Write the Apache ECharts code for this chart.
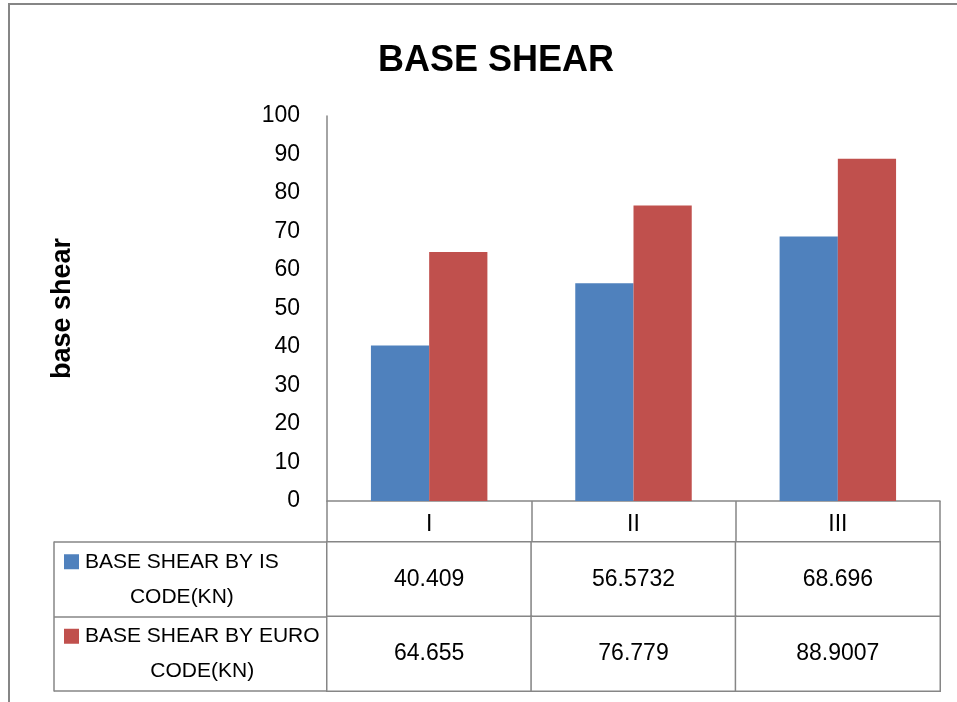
<!DOCTYPE html>
<html>
<head>
<meta charset="utf-8">
<script src="https://cdn.jsdelivr.net/npm/echarts@6/dist/echarts.min.js"></script>
<style>
    html, body { margin: 0; padding: 0; background: #fff; }
    #chart { width: 957px; height: 702px; }
</style>
</head>
<body>
<div id="chart"></div>
<script>
    // 数据
    const categories = ['I', 'II', 'III'];
    const seriesNames = ['BASE SHEAR BY IS CODE(KN)', 'BASE SHEAR BY EURO CODE(KN)'];
    const isCode = [40.409, 56.5732, 68.696];
    const euroCode = [64.655, 76.779, 88.9007];
    const yTicks = { min: 0, max: 100, interval: 10 };

    const colors = ['#4F81BD', '#C0504D'];
    const lineGray = '#868686';
    const font = "'Liberation Sans', Arial, sans-serif";

    // 表格单元格 [x, y, value]
    const tableCells = [];
    [isCode, euroCode].forEach(function (arr, r) {
        arr.forEach(function (v, c) {
            tableCells.push([c, r, v]);
        });
    });

    // 图例文字（两行）
    const legendText = {};
    legendText[seriesNames[0]] = ['BASE SHEAR BY IS', 'CODE(KN)'];
    legendText[seriesNames[1]] = ['BASE SHEAR BY EURO', 'CODE(KN)'];

    let myChart = echarts.init(document.getElementById('chart'));
    myChart.setOption({
        animation: false,
        backgroundColor: '#fff',
        textStyle: { fontFamily: font, color: '#000' },
        title: {
            text: 'BASE SHEAR',
            left: 373,
            top: 38,
            textStyle: { fontFamily: font, fontSize: 36, fontWeight: 'bold', color: '#000' }
        },
        //外框
        graphic: [{
            type: 'rect',
            shape: { x: 9, y: 4, width: 1200, height: 1200 },
            style: { fill: 'none', stroke: lineGray, lineWidth: 2 },
            silent: true
        }],
        grid: [
            { left: 327, right: 17, top: 116, bottom: 201 },
            { left: 327, right: 17, top: 542, bottom: 11 }
        ],
        xAxis: [
            {
                type: 'category',
                gridIndex: 0,
                data: categories,
                axisLine: { lineStyle: { color: lineGray, width: 1.5 } },
                //刻度线向下延伸成表头竖线
                axisTick: { show: true, length: 41, lineStyle: { color: lineGray, width: 1.5 } },
                axisLabel: { margin: 12, fontSize: 23, color: '#000', fontFamily: font }
            },
            {
                type: 'category',
                gridIndex: 1,
                data: categories,
                show: false
            }
        ],
        yAxis: [
            {
                type: 'value',
                gridIndex: 0,
                min: yTicks.min,
                max: yTicks.max,
                interval: yTicks.interval,
                name: 'base shear',
                nameLocation: 'middle',
                nameGap: 251,
                nameTextStyle: { fontSize: 27, fontWeight: 'bold', color: '#000', fontFamily: font },
                axisLine: { show: true, lineStyle: { color: lineGray, width: 1.5 } },
                axisTick: { show: false },
                splitLine: { show: false },
                axisLabel: { margin: 27, fontSize: 23, color: '#000', fontFamily: font }
            },
            {
                type: 'category',
                gridIndex: 1,
                data: seriesNames,
                inverse: true,
                axisLine: { show: true, lineStyle: { color: lineGray, width: 1.5 } },
                //刻度线向左延伸成表格横线
                axisTick: { show: true, length: 273, lineStyle: { color: lineGray, width: 1.5 } },
                axisLabel: {
                    margin: 263,
                    align: 'left',
                    formatter: function (name) {
                        const idx = seriesNames.indexOf(name);
                        const t = legendText[name];
                        return '{sq' + idx + '|}{g|}{t|' + t[0] + '}\n{p|}{t|' + t[1] + '}';
                    },
                    rich: {
                        sq0: { width: 15, height: 15, backgroundColor: colors[0], align: 'left' },
                        sq1: { width: 15, height: 15, backgroundColor: colors[1], align: 'left' },
                        g: { width: 6, align: 'left' },
                        p: { width: 21, align: 'left' },
                        t: { fontSize: 21, lineHeight: 35, color: '#000', fontFamily: font, align: 'center' }
                    }
                }
            },
            {
                //表格最左边竖线
                type: 'value',
                gridIndex: 1,
                position: 'left',
                offset: 273,
                axisLine: { show: true, lineStyle: { color: lineGray, width: 1.5 } },
                axisTick: { show: false },
                axisLabel: { show: false },
                splitLine: { show: false }
            }
        ],
        visualMap: {
            show: false,
            seriesIndex: 2,
            min: 0,
            max: 100,
            inRange: { color: ['#ffffff', '#ffffff'] }
        },
        series: [
            {
                name: seriesNames[0],
                type: 'bar',
                xAxisIndex: 0,
                yAxisIndex: 0,
                barGap: '0%',
                barCategoryGap: '43%',
                itemStyle: { color: colors[0] },
                data: isCode
            },
            {
                name: seriesNames[1],
                type: 'bar',
                xAxisIndex: 0,
                yAxisIndex: 0,
                barGap: '0%',
                barCategoryGap: '43%',
                itemStyle: { color: colors[1] },
                data: euroCode
            },
            {
                type: 'heatmap',
                xAxisIndex: 1,
                yAxisIndex: 1,
                data: tableCells,
                itemStyle: { borderColor: lineGray, borderWidth: 1.5 },
                label: {
                    show: true,
                    fontSize: 23,
                    color: '#000',
                    fontFamily: font,
                    formatter: function (p) { return String(p.value[2]); }
                },
                emphasis: { disabled: true }
            }
        ]
    });
</script>
</body>
</html>
